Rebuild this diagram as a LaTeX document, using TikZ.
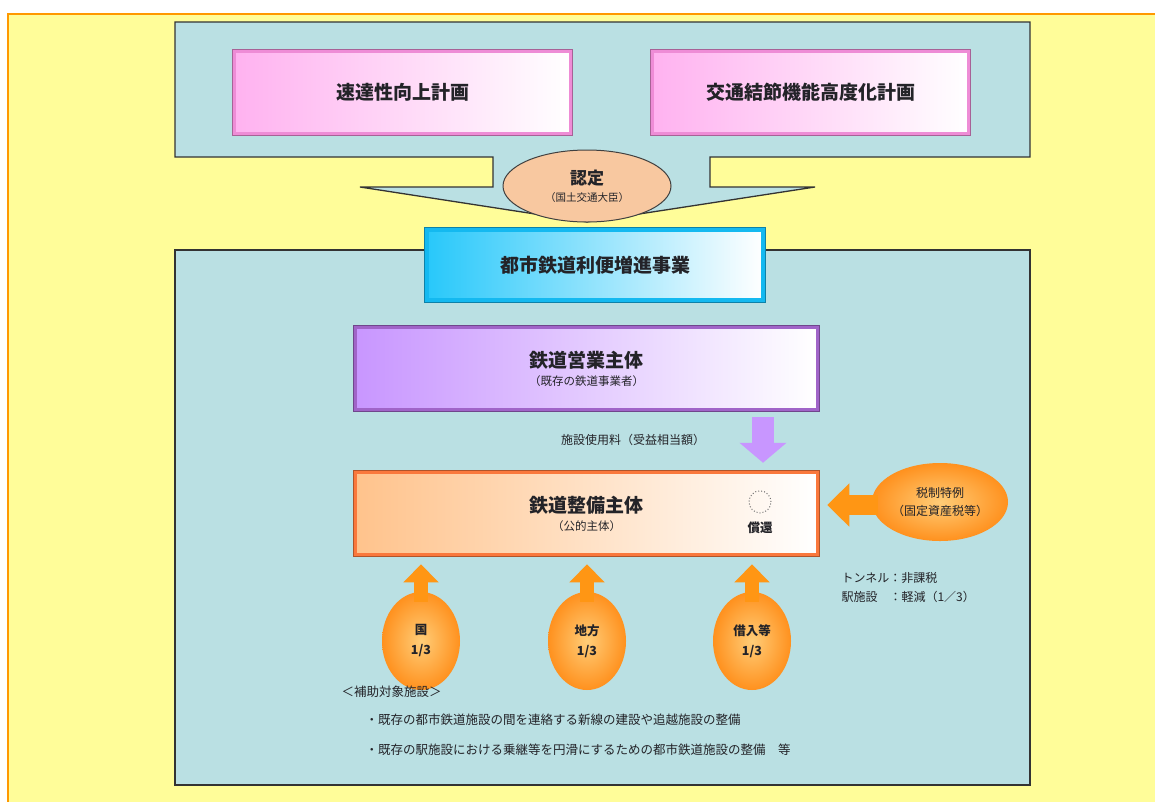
\documentclass[tikz,border=0pt]{standalone}
\usepackage{fontspec}
\setmainfont{Noto Sans CJK JP}
\usetikzlibrary{shapes.geometric,arrows.meta,calc}
\definecolor{bgyellow}{RGB}{255,253,153}
\definecolor{frameorange}{RGB}{255,153,0}
\definecolor{teal}{RGB}{186,224,227}
\definecolor{pinkA}{RGB}{255,178,240}
\definecolor{pinkB}{RGB}{238,140,214}
\definecolor{cyanA}{RGB}{40,200,250}
\definecolor{cyanB}{RGB}{20,185,240}
\definecolor{purpA}{RGB}{200,150,255}
\definecolor{purpB}{RGB}{160,100,200}
\definecolor{oraA}{RGB}{255,195,140}
\definecolor{oraB}{RGB}{250,120,60}
\definecolor{arrowora}{RGB}{255,150,20}
\definecolor{circin}{RGB}{255,205,120}
\definecolor{circout}{RGB}{255,145,30}
\definecolor{nintei}{RGB}{248,200,160}
\definecolor{txt}{RGB}{35,35,40}
\tikzset{
  bevelbox/.style 2 args={rectangle, draw=#2, line width=3.5pt,
    left color=#1, right color=white,
    preaction={draw=#2!70!black, line width=5.5pt},
    text=txt, align=center, inner sep=0pt},
  bigtxt/.style={font=\fontsize{19}{22}\selectfont\bfseries},
  bodytxt/.style={font=\fontsize{12.5}{15}\selectfont, text=txt},
  moneycirc/.style={ellipse, inner color=circin, outer color=circout,
    minimum width=78pt, minimum height=98pt, inner sep=0pt, align=center,
    text=txt, font=\fontsize{12.5}{20}\selectfont\bfseries},
  fundarrow/.style={draw=arrowora, line width=14pt,
    -{Triangle[length=18pt, width=34pt, fill=arrowora]}},
  taxarrowstyle/.style={draw=arrowora, line width=20pt,
    -{Triangle[length=22pt, width=42pt, fill=arrowora]}},
  feearrowstyle/.style={draw=purpA, line width=22pt,
    -{Triangle[length=20pt, width=46pt, fill=purpA]}},
  tealbox/.style={fill=teal, draw=black!80, line width=1.3pt},
}
\begin{document}
\begin{tikzpicture}[x=1pt,y=-1pt]
\useasboundingbox (0,0) rectangle (1155,801);
\fill[white] (0,0) rectangle (1155,801);
% yellow frame
\fill[bgyellow] (8,14) rectangle (1160,810);
\draw[frameorange, line width=2pt] (8,812) -- (8,14) -- (1160,14);
% top teal box with chevron
\path[tealbox] (175,22) -- (1030,22) -- (1030,157) -- (710,157) -- (710,187)
  -- (815,187) -- (587,222) -- (360,187) -- (493,187) -- (493,157)
  -- (175,157) -- cycle;
% bottom teal box
\path[tealbox] (175,250) rectangle (1030,785);
% plan boxes
\node[bevelbox={pinkA}{pinkB}, minimum width=336pt, minimum height=82pt, bigtxt]
  (sokutatsu) at (402.5,92.5) {速達性向上計画};
\node[bevelbox={pinkA}{pinkB}, minimum width=316pt, minimum height=82pt, bigtxt]
  (kotsu) at (810.5,92.5) {交通結節機能高度化計画};
% approval ellipse
\node[ellipse, fill=nintei, draw=black!75, line width=1pt, minimum width=168pt,
  minimum height=72pt, inner sep=0pt, align=center, text=txt]
  (nintei) at (587,186)
  {{\fontsize{17}{20}\selectfont\bfseries 認定}\\[5pt]{\fontsize{10.5}{12}\selectfont（国土交通大臣）}};
% project box
\node[bevelbox={cyanA}{cyanB}, minimum width=336pt, minimum height=70pt, bigtxt]
  (jigyo) at (595,265) {都市鉄道利便増進事業};
% operator
\node[bevelbox={purpA}{purpB}, minimum width=462pt, minimum height=82pt]
  (eigyo) at (586.5,368.5)
  {{\fontsize{19}{22}\selectfont\bfseries 鉄道営業主体}\\[6pt]{\fontsize{11.5}{13}\selectfont（既存の鉄道事業者）}};
% builder
\node[bevelbox={oraA}{oraB}, minimum width=462pt, minimum height=82pt]
  (seibi) at (586.5,513.5)
  {{\fontsize{19}{22}\selectfont\bfseries 鉄道整備主体}\\[6pt]{\fontsize{11.5}{13}\selectfont（公的主体）}};
\node[font=\fontsize{12.5}{14}\selectfont\bfseries, text=txt, inner sep=0pt]
  (shokan) at (760,528) {償還};
\draw[black!55, dotted, line width=1pt] ($(shokan.north)+(0,-20)$) circle (11pt);
% fee arrow
\coordinate (feetop) at ($(eigyo.south -| 763,0)+(0,6)$);
\coordinate (feebot) at ($(seibi.north -| 763,0)+(0,-8)$);
\draw[feearrowstyle] (feetop) -- (feebot);
\node[bodytxt, font=\fontsize{12}{14}\selectfont] (feelabel) at (633,440) {施設使用料（受益相当額）};
% tax
\node[ellipse, inner color=circin, outer color=circout, minimum width=136pt,
  minimum height=78pt, inner sep=0pt, align=center, text=txt,
  font=\fontsize{12}{18}\selectfont] (zeisei) at (940,502) {税制特例\\（固定資産税等）};
\draw[taxarrowstyle] ($(zeisei.west)+(6,3)$) -- ($(seibi.east |- 0,505)+(8,0)$);
\node[bodytxt, anchor=west, align=left, font=\fontsize{12}{19}\selectfont]
  (taxnote) at (838,588) {トンネル：非課税\\駅施設　：軽減（1／3）};
% funding circles
\node[moneycirc] (kuni) at (421,641) {国\\1/3};
\node[moneycirc] (chiho) at (587,641) {地方\\1/3};
\node[moneycirc] (kariire) at (752,641) {借入等\\1/3};
\foreach \c in {kuni,chiho,kariire}{
  \draw[fundarrow] ($(\c.north)+(0,10)$) -- ($(seibi.south -| \c.north)+(0,8)$);
}
% notes
\node[bodytxt, anchor=west] (hojo) at (338,692) {＜補助対象施設＞};
\node[bodytxt, anchor=west] (note1) at (362,720) {・既存の都市鉄道施設の間を連絡する新線の建設や追越施設の整備};
\node[bodytxt, anchor=west] (note2) at (362,750) {・既存の駅施設における乗継等を円滑にするための都市鉄道施設の整備　等};
\end{tikzpicture}
\end{document}
